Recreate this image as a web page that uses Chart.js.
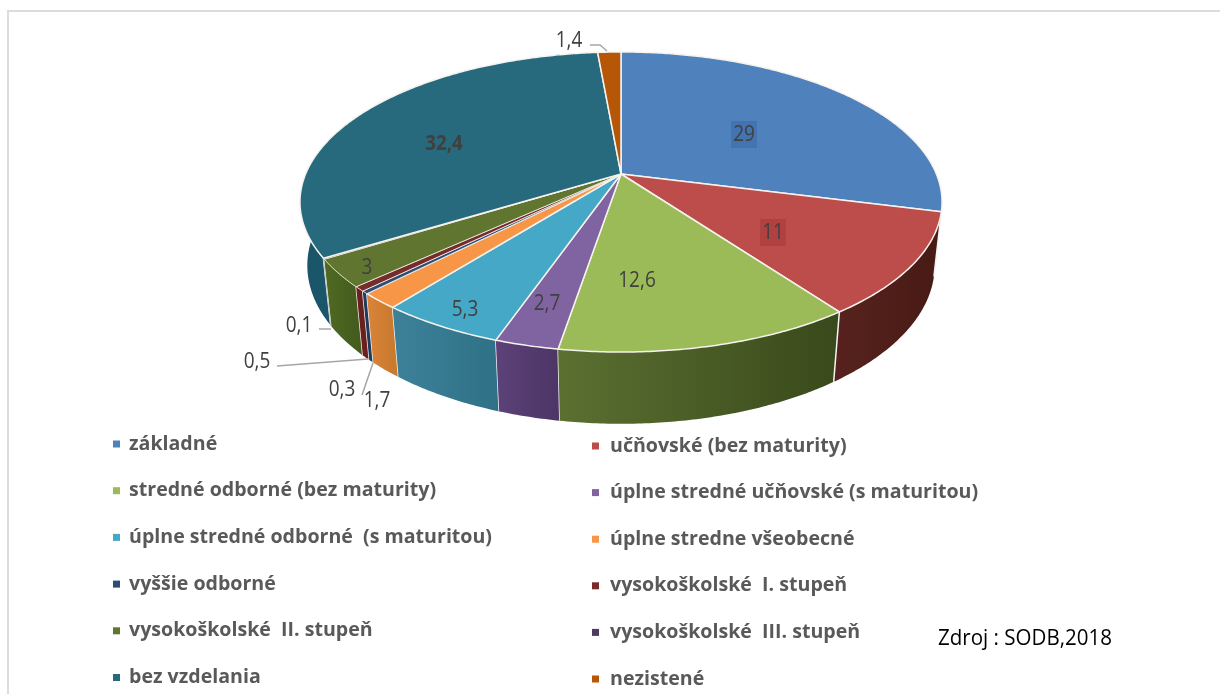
<!DOCTYPE html>
<html>
<head>
<meta charset="utf-8">
<title>Vzdelanie</title>
<script src="https://cdn.jsdelivr.net/npm/chart.js@4"></script>
<style>
  html, body { margin: 0; padding: 0; background: #fff; overflow: hidden; }
  #pie { display: block; }
</style>
</head>
<body>
<canvas id="pie" width="1220" height="694"></canvas>
<script>
const categories = ["základné", "učňovské (bez maturity)", "stredné odborné (bez maturity)", "úplne stredné učňovské (s maturitou)",
    "úplne stredné odborné  (s maturitou)", "úplne stredne všeobecné", "vyššie odborné", "vysokoškolské  I. stupeň",
    "vysokoškolské  II. stupeň", "vysokoškolské  III. stupeň", "bez vzdelania", "nezistené"];
const values = [29, 11, 12.6, 2.7, 5.3, 1.7, 0.3, 0.5, 3, 0.1, 32.4, 1.4];
const topColors = ["#4f81bd", "#bd4d4a", "#9bbb59", "#8064a2", "#45a8c6", "#f79646", "#2c4d75", "#772c2a", "#5f7530", "#4d3b62", "#276a7e", "#b65708"];
const wallLeft = ["#2f4d71", "#57221d", "#5b7031", "#5c4278", "#3d8199", "#d9843a", "#1f3b5c", "#6b1f1f", "#506a22", "#3c2d50", "#1a5569", "#8a4206"];
const wallRight = ["#2f4d71", "#471a14", "#39491b", "#4d3566", "#2f7287", "#c97a2d", "#1f3b5c", "#6b1f1f", "#445c1d", "#3c2d50", "#1d5f75", "#8a4206"];

// value label centres, same order as values
const labelPos = [[744, 135], [773, 233], [637, 281], [547, 304], [465, 310], [377, 401], [342, 390], [257, 362], [367, 268], [299, 326], [444, 144], [569, 41]];
const labelBox = { 0: "#4474b0", 1: "#b04140" };
const leaders = [
    [[590, 45], [600, 45], [607, 51]],
    [[319, 329], [331, 329]],
    [[277, 366], [368, 359]],
    [[362, 395], [373, 363]]
];

// projection of the round pie, fitted to the picture
const persp = 0.1866, stretchX = 1.8126, stretchY = 0.8322, dropY = 0.368, dropPersp = 0.0226;

function project(arc, angle, low) {
    const u = Math.cos(angle), v = Math.sin(angle);
    const w = 1 - persp * v + (low ? dropPersp : 0);
    const r = arc.outerRadius;
    return [arc.x + r * stretchX * u / w, arc.y + r * (stretchY * v + (low ? dropY : 0)) / w];
}

function rimPoints(arc, low) {
    const pts = [];
    const n = Math.max(2, Math.ceil((arc.endAngle - arc.startAngle) / 0.01));
    for (let i = 0; i <= n; i++) {
        pts.push(project(arc, arc.startAngle + (arc.endAngle - arc.startAngle) * i / n, low));
    }
    return pts;
}

function tracePath(ctx, pts) {
    ctx.beginPath();
    pts.forEach((p, i) => i ? ctx.lineTo(p[0], p[1]) : ctx.moveTo(p[0], p[1]));
}

const pie3d = {
    id: 'pie3d',
    beforeDatasetsDraw(chart) {
        const ctx = chart.ctx;
        const arcs = chart.getDatasetMeta(0).data;
        ctx.save();
        ctx.lineJoin = 'round';

        // walls, back ones first
        const order = arcs.map((a, i) => i).sort((p, q) =>
            Math.sin((arcs[p].startAngle + arcs[p].endAngle) / 2) - Math.sin((arcs[q].startAngle + arcs[q].endAngle) / 2));
        order.forEach(i => {
            const top = rimPoints(arcs[i], false);
            const low = rimPoints(arcs[i], true);
            const xs = top.map(p => p[0]);
            const g = ctx.createLinearGradient(Math.min(...xs), 0, Math.max(...xs), 0);
            g.addColorStop(0, wallLeft[i]);
            g.addColorStop(1, wallRight[i]);
            tracePath(ctx, top.concat(low.slice().reverse()));
            ctx.closePath();
            ctx.fillStyle = g;
            ctx.fill();
            if (Math.sin(arcs[i].startAngle) > 0.15) {
                const a = project(arcs[i], arcs[i].startAngle, false), b = project(arcs[i], arcs[i].startAngle, true);
                tracePath(ctx, [a, b]);
                ctx.strokeStyle = '#f4f4f4';
                ctx.lineWidth = 1.5;
                ctx.stroke();
            }
        });

        // top faces
        arcs.forEach((arc, i) => {
            tracePath(ctx, [[arc.x, arc.y]].concat(rimPoints(arc, false)));
            ctx.closePath();
            ctx.fillStyle = topColors[i];
            ctx.fill();
            ctx.strokeStyle = '#f6f2ee';
            ctx.lineWidth = i >= 6 && i <= 9 ? 0.8 : 1.5;
            ctx.stroke();
        });
        ctx.restore();
        return false;
    },
    afterDraw(chart) {
        const ctx = chart.ctx;
        ctx.save();

        // frame, only left and top are in the crop
        ctx.strokeStyle = '#dcdcdc';
        ctx.lineWidth = 2;
        ctx.beginPath();
        ctx.moveTo(8, 694);
        ctx.lineTo(8, 11);
        ctx.lineTo(1220, 11);
        ctx.stroke();

        // leader lines
        ctx.strokeStyle = '#a6a6a6';
        ctx.lineWidth = 1.5;
        leaders.forEach(line => { tracePath(ctx, line); ctx.stroke(); });

        // value labels, tall and narrow like the original font
        ctx.textAlign = 'center';
        ctx.textBaseline = 'middle';
        values.forEach((v, i) => {
            const text = String(v).replace('.', ',');
            const [x, y] = labelPos[i];
            ctx.font = '19px "Open Sans"';
            const w = ctx.measureText(text).width;
            if (labelBox[i]) {
                ctx.fillStyle = labelBox[i];
                ctx.fillRect(x - w / 2 - 2, y - 14, w + 4, 27);
            }
            ctx.font = (v === 32.4 ? 'bold ' : '') + '21px "Open Sans"';
            ctx.fillStyle = '#404040';
            ctx.fillText(text, x, y, w);
        });

        // legend, two columns
        ctx.font = 'bold 19.6px "Open Sans"';
        ctx.textAlign = 'left';
        categories.forEach((name, i) => {
            const right = i % 2 === 1;
            const row = Math.floor(i / 2);
            const y = right ? 445 + 46.6 * row : 443 + 46.7 * row;
            const sx = right ? 592 : 113, tx = right ? 610 : 129;
            ctx.fillStyle = topColors[i];
            ctx.fillRect(sx, y - 2.5, 7, 7);
            ctx.fillStyle = '#595959';
            ctx.fillText(name, tx, y + 1);
        });

        ctx.font = '22px "Open Sans"';
        ctx.fillStyle = '#000';
        ctx.fillText('Zdroj : SODB,2018', 938, 639, 174);
        ctx.restore();
    }
};

new Chart(document.getElementById('pie'), {
    type: 'pie',
    data: {
        labels: categories,
        datasets: [{
            data: values,
            backgroundColor: topColors,
            borderWidth: 0
        }]
    },
    options: {
        responsive: false,
        animation: false,
        layout: { padding: { left: 447, right: 425, top: 0, bottom: 346 } },
        plugins: { legend: { display: false }, tooltip: { enabled: false } }
    },
    plugins: [pie3d]
});
</script>
</body>
</html>
